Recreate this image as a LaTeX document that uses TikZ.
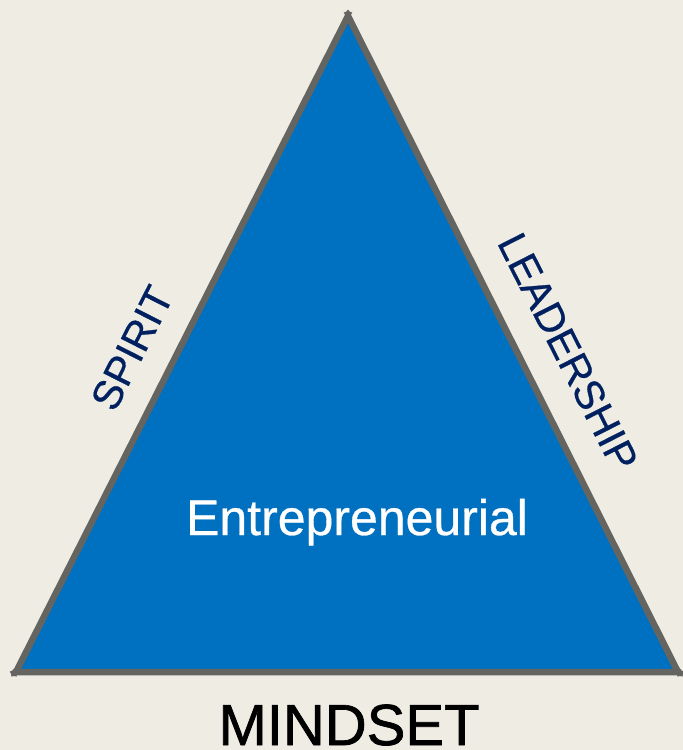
\documentclass[tikz,border=0pt]{standalone}
\usepackage{fontspec}
\setmainfont{Liberation Sans}
\newfontfamily\heavyfont[FakeBold=1.2]{Liberation Sans}
\newfontfamily\midfont[FakeBold=0.6]{Liberation Sans}
\usetikzlibrary{shapes.geometric}
\definecolor{bgc}{HTML}{EFECE4}
\definecolor{triblue}{HTML}{0070C0}
\definecolor{edgegray}{HTML}{646461}
\definecolor{navy}{HTML}{002060}
\tikzset{
  sidelabel/.style={text=navy, font=\midfont\fontsize{41}{41}\selectfont, inner sep=0pt},
  vmark/.style={star, star points=5, fill=edgegray, inner sep=0pt, minimum size=9pt},
}
\begin{document}
\begin{tikzpicture}[x=1pt,y=-1pt]
\fill[bgc] (0,0) rectangle (683,750);
\useasboundingbox (0,0) rectangle (683,750);
\coordinate (T) at (348,16);
\coordinate (L) at (16,672);
\coordinate (R) at (678,672);
\draw[edgegray, line width=6.5pt, fill=triblue, line join=round] (T) -- (L) -- (R) -- cycle;
\node[vmark] (mt) at (348,14) {};
\node[vmark] (ml) at (14,673) {};
\node[vmark] (mr) at (680,673) {};
\node[sidelabel, rotate=63.1] (spirit) at (132,348) {SPIRIT};
\node[sidelabel, rotate=-63.1] (lead) at (568,352) {LEADERSHIP};
\node[text=white, font=\midfont\fontsize{50}{50}\selectfont, inner sep=0pt, anchor=base] (ent) at (357,535) {Entrepreneurial};
\node[text=black, font=\heavyfont\fontsize{58}{58}\selectfont, inner sep=0pt, anchor=base] (mind) at (349,745) {MINDSET};
\end{tikzpicture}
\end{document}
